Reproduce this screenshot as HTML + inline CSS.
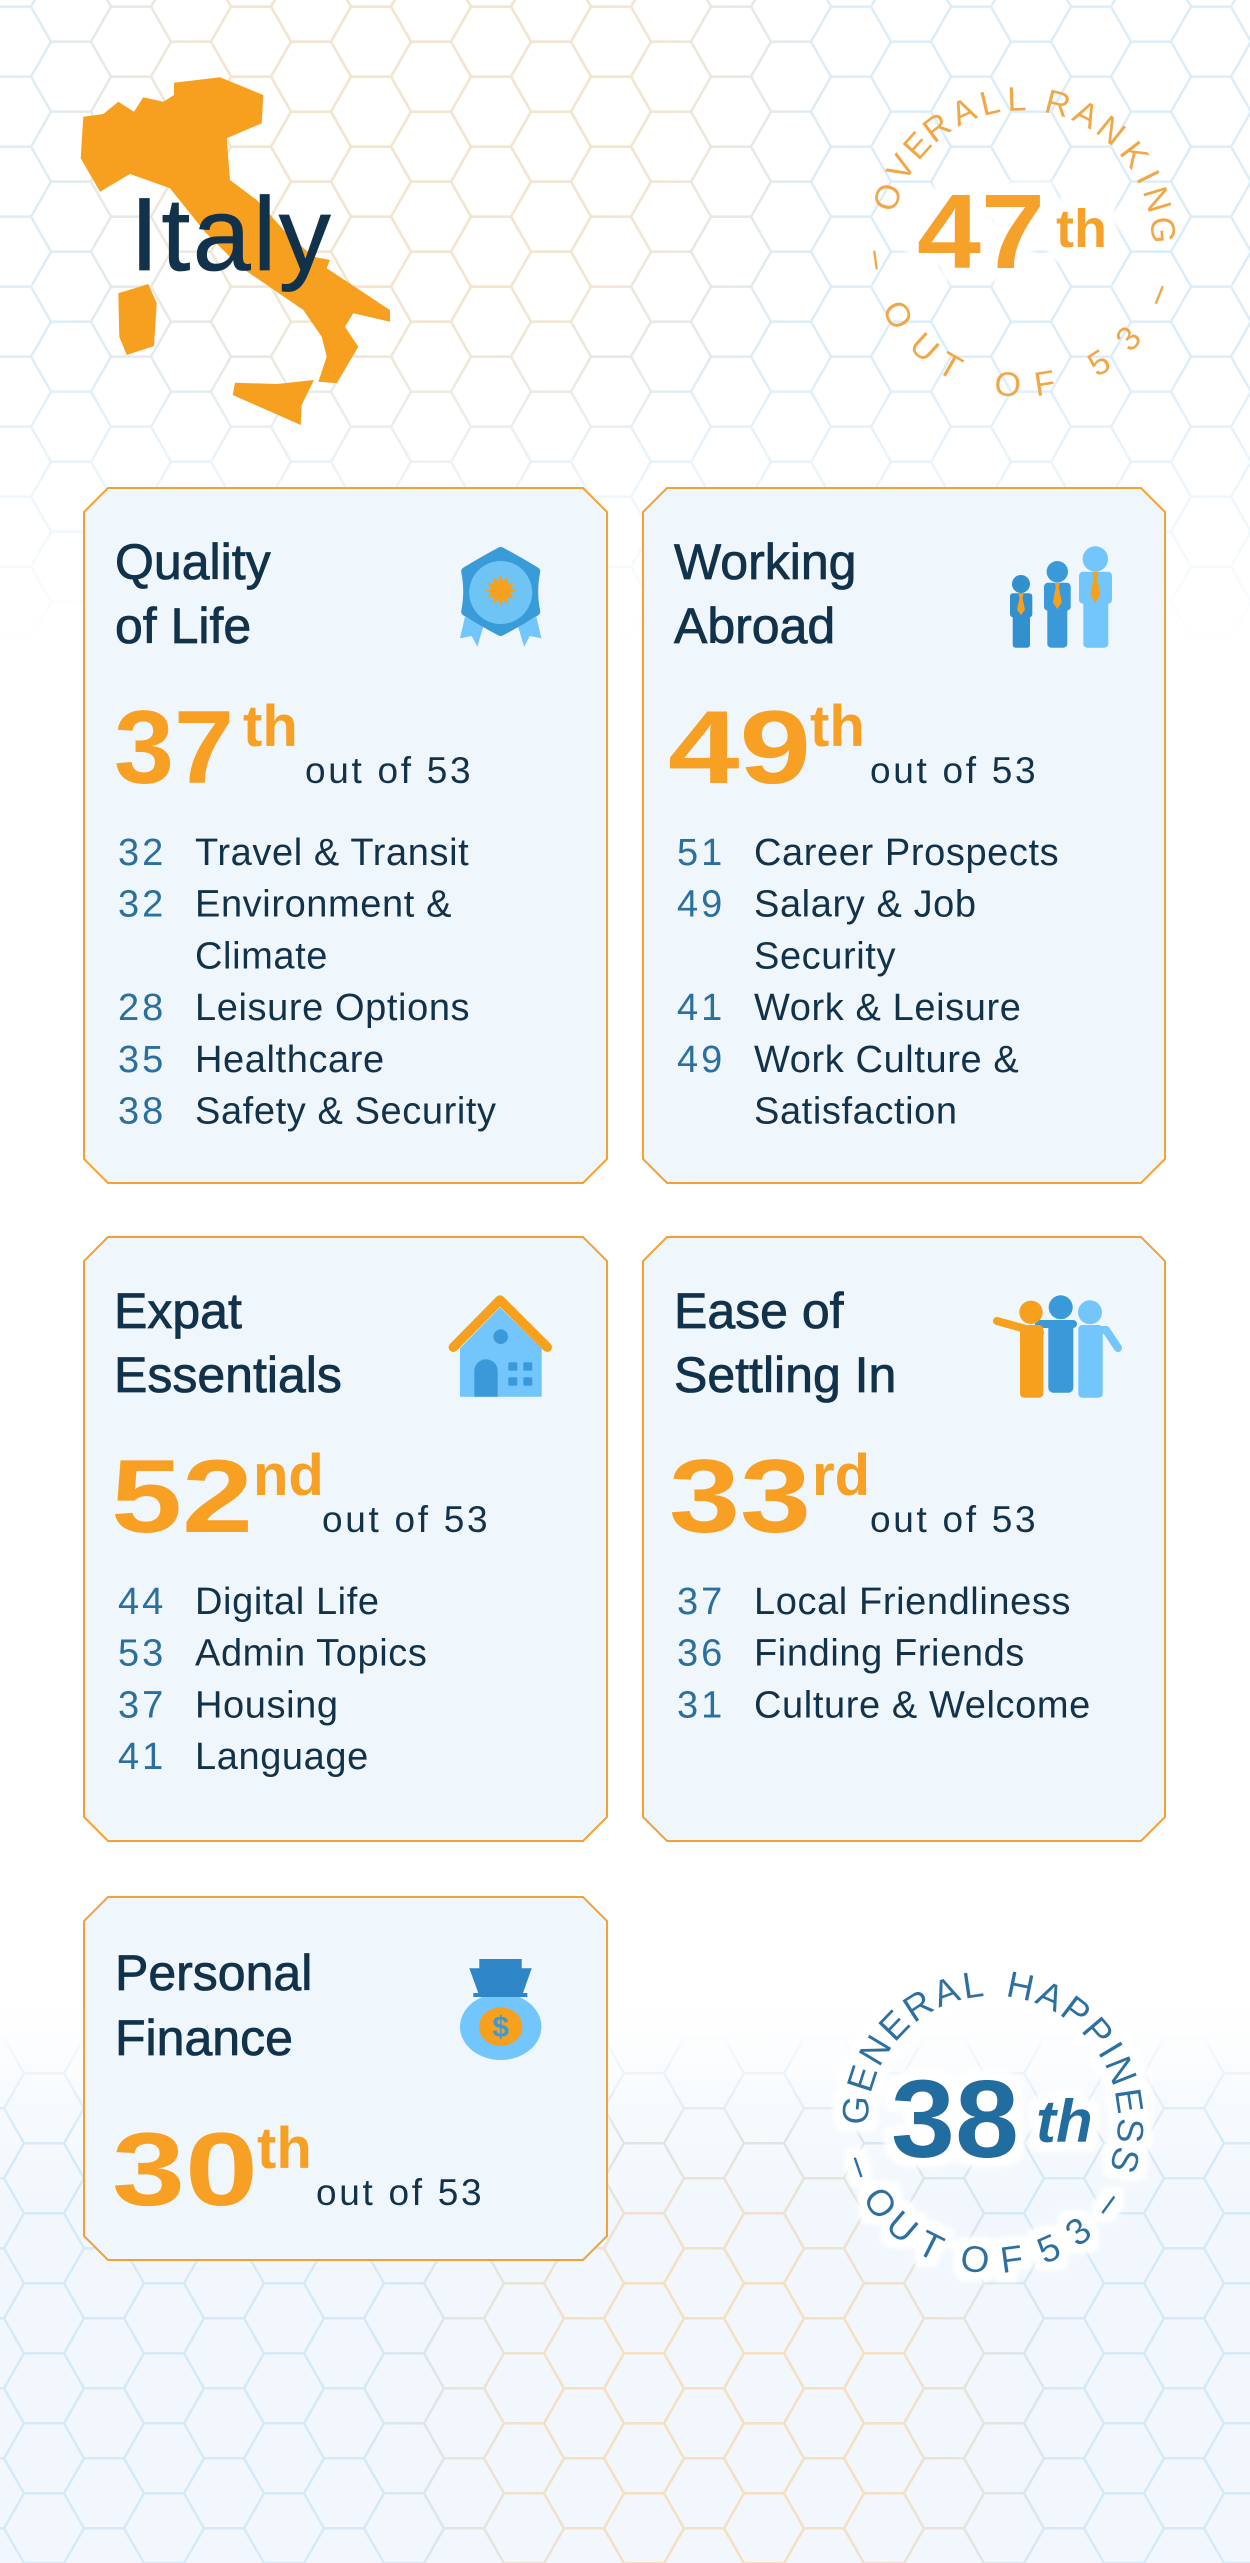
<!DOCTYPE html>
<html><head><meta charset="utf-8">
<style>
html,body{margin:0;padding:0;background:#fff;width:1250px;height:2563px;overflow:hidden;}
svg{display:block;}
text{font-family:"Liberation Sans",Arial,sans-serif;}
.ti{font-size:50px;fill:#11324a;stroke:#11324a;stroke-width:0.8px;}
.bg{font-size:104px;font-weight:700;fill:#f7a024;}
.sp{font-size:58px;font-weight:700;fill:#f7a024;}
.oo{font-size:37px;fill:#11324a;letter-spacing:2.7px;}
.nm{font-size:38px;fill:#2b6f9f;letter-spacing:3px;}
.lt{font-size:38px;fill:#11324a;letter-spacing:0.6px;}
.ov{font-size:34px;fill:#f2a746;text-anchor:middle;}
.gh{font-size:37px;fill:#2a71a2;text-anchor:middle;}
</style></head><body>
<svg width="1250" height="2563" viewBox="0 0 1250 2563" xmlns="http://www.w3.org/2000/svg">
<defs>
<pattern id="hbT" patternUnits="userSpaceOnUse" x="27" y="-1.6" width="120" height="70"><path d="M4 8.3L24-26.7H64L84 8.3L64 43.3H24Z M4 78.3L24 43.3H64L84 78.3L64 113.3H24Z M64 43.3L84 8.3H124L144 43.3L124 78.3H84Z M64-26.7L84-61.7H124L144-26.7L124 8.3H84Z M-56 43.3L-36 8.3H4L24 43.3L4 78.3H-36Z M-56-26.7L-36-61.7H4L24-26.7L4 8.3H-36Z" fill="none" stroke="#dcedf9" stroke-width="2.5"/></pattern>
<pattern id="hoT" patternUnits="userSpaceOnUse" x="27" y="-1.6" width="120" height="70"><path d="M4 8.3L24-26.7H64L84 8.3L64 43.3H24Z M4 78.3L24 43.3H64L84 78.3L64 113.3H24Z M64 43.3L84 8.3H124L144 43.3L124 78.3H84Z M64-26.7L84-61.7H124L144-26.7L124 8.3H84Z M-56 43.3L-36 8.3H4L24 43.3L4 78.3H-36Z M-56-26.7L-36-61.7H4L24-26.7L4 8.3H-36Z" fill="none" stroke="#f5e5cc" stroke-width="2.5"/></pattern>
<pattern id="hbB" patternUnits="userSpaceOnUse" x="0" y="0" width="120" height="70"><path d="M4 8.3L24-26.7H64L84 8.3L64 43.3H24Z M4 78.3L24 43.3H64L84 78.3L64 113.3H24Z M64 43.3L84 8.3H124L144 43.3L124 78.3H84Z M64-26.7L84-61.7H124L144-26.7L124 8.3H84Z M-56 43.3L-36 8.3H4L24 43.3L4 78.3H-36Z M-56-26.7L-36-61.7H4L24-26.7L4 8.3H-36Z" fill="none" stroke="#d6e9f8" stroke-width="2.5"/></pattern>
<pattern id="hoB" patternUnits="userSpaceOnUse" x="0" y="0" width="120" height="70"><path d="M4 8.3L24-26.7H64L84 8.3L64 43.3H24Z M4 78.3L24 43.3H64L84 78.3L64 113.3H24Z M64 43.3L84 8.3H124L144 43.3L124 78.3H84Z M64-26.7L84-61.7H124L144-26.7L124 8.3H84Z M-56 43.3L-36 8.3H4L24 43.3L4 78.3H-36Z M-56-26.7L-36-61.7H4L24-26.7L4 8.3H-36Z" fill="none" stroke="#f5e0c0" stroke-width="2.5"/></pattern>

<linearGradient id="gTop" gradientUnits="userSpaceOnUse" x1="0" y1="0" x2="0" y2="650"><stop offset="0" stop-color="#fff"/><stop offset="0.55" stop-color="#fff"/><stop offset="1" stop-color="#000"/></linearGradient>
<mask id="mTop" maskUnits="userSpaceOnUse" x="0" y="0" width="1250" height="700"><rect width="1250" height="700" fill="url(#gTop)"/></mask>
<radialGradient id="gOT" gradientUnits="userSpaceOnUse" cx="430" cy="110" r="420"><stop offset="0" stop-color="#fff"/><stop offset="0.5" stop-color="#fff"/><stop offset="1" stop-color="#000"/></radialGradient>
<mask id="mOT" maskUnits="userSpaceOnUse" x="0" y="0" width="1250" height="700"><rect width="1250" height="700" fill="url(#gOT)"/></mask>

<linearGradient id="gBot" gradientUnits="userSpaceOnUse" x1="0" y1="2030" x2="0" y2="2140"><stop offset="0" stop-color="#000"/><stop offset="1" stop-color="#fff"/></linearGradient>
<mask id="mBot" maskUnits="userSpaceOnUse" x="0" y="1990" width="1250" height="573"><rect y="1990" width="1250" height="573" fill="url(#gBot)"/></mask>
<radialGradient id="gOB" gradientUnits="userSpaceOnUse" cx="720" cy="2420" r="360"><stop offset="0" stop-color="#fff"/><stop offset="0.45" stop-color="#fff"/><stop offset="1" stop-color="#000"/></radialGradient>
<mask id="mOB" maskUnits="userSpaceOnUse" x="0" y="1990" width="1250" height="573"><rect y="1990" width="1250" height="573" fill="url(#gOB)"/></mask>
<linearGradient id="gTint" gradientUnits="userSpaceOnUse" x1="0" y1="2000" x2="0" y2="2200"><stop offset="0" stop-color="#f1f7fc" stop-opacity="0"/><stop offset="1" stop-color="#f1f7fc"/></linearGradient>

<filter id="halo1" filterUnits="userSpaceOnUse" x="860" y="150" width="320" height="180"><feMorphology in="SourceAlpha" operator="dilate" radius="13" result="d"/><feGaussianBlur in="d" stdDeviation="3" result="b"/><feFlood flood-color="#fff"/><feComposite in2="b" operator="in" result="w"/><feMerge><feMergeNode in="w"/><feMergeNode in="SourceGraphic"/></feMerge></filter>
<filter id="halo2" filterUnits="userSpaceOnUse" x="780" y="1920" width="430" height="420"><feMorphology in="SourceAlpha" operator="dilate" radius="9" result="d"/><feGaussianBlur in="d" stdDeviation="2.5" result="b"/><feFlood flood-color="#fff"/><feComposite in2="b" operator="in" result="w"/><feMerge><feMergeNode in="w"/><feMergeNode in="SourceGraphic"/></feMerge></filter>
</defs>

<!-- background -->
<rect width="1250" height="2563" fill="#ffffff"/>
<rect y="2000" width="1250" height="563" fill="url(#gTint)"/>
<g mask="url(#mTop)">
  <rect width="1250" height="700" fill="url(#hbT)"/>
  <rect width="1250" height="700" fill="url(#hoT)" mask="url(#mOT)"/>
</g>
<g mask="url(#mBot)">
  <rect y="1990" width="1250" height="573" fill="url(#hbB)"/>
  <rect y="1990" width="1250" height="573" fill="url(#hoB)" mask="url(#mOB)"/>
</g>

<!-- Italy map -->
<g fill="#f7a01f">
<polygon points="80.7,158.3 83.3,116.7 103.3,114 118.3,101.7 134,111.7 143.3,97.3 163.3,101.7 174,95 174,82.7 220,77.3 263.3,95 261.7,123.3 226.7,138.3 230,180 256.7,200 286.7,233.3 313.3,256.7 330,260 326.7,268.3 390,310 390,321.7 353.3,313.3 345,326.7 358.3,346.7 336.7,383.3 318.3,381.7 326.7,356.7 321.7,336.7 303.3,310 240,266.7 205,232 170,188.3 130,174 100,191.7"/>
<polygon points="118.3,293.3 148.3,284 156.7,303.3 154,346 126.7,355 119.3,336.7"/>
<polygon points="235,382.7 276.7,384 314,380 301.7,405 300.7,425 232.7,395"/>
</g>
<text x="130" y="270" style="font-size:104px;fill:#11324a;letter-spacing:2.5px;stroke:#11324a;stroke-width:0.8px">Italy</text>

<!-- Overall ranking circle -->
<g class="ov">
<text x="1022" y="110.4" transform="rotate(-72.3 1022 240)">O</text>
<text x="1022" y="110.4" transform="rotate(-59.2 1022 240)">V</text>
<text x="1022" y="110.4" transform="rotate(-48 1022 240)">E</text>
<text x="1022" y="110.4" transform="rotate(-37.1 1022 240)">R</text>
<text x="1022" y="110.4" transform="rotate(-24.5 1022 240)">A</text>
<text x="1022" y="110.4" transform="rotate(-13.2 1022 240)">L</text>
<text x="1022" y="110.4" transform="rotate(-2.1 1022 240)">L</text>
<text x="1022" y="110.4" transform="rotate(14.7 1022 240)">R</text>
<text x="1022" y="110.4" transform="rotate(27 1022 240)">A</text>
<text x="1022" y="110.4" transform="rotate(39.1 1022 240)">N</text>
<text x="1022" y="110.4" transform="rotate(52.8 1022 240)">K</text>
<text x="1022" y="110.4" transform="rotate(63.4 1022 240)">I</text>
<text x="1022" y="110.4" transform="rotate(73.3 1022 240)">N</text>
<text x="1022" y="110.4" transform="rotate(85.9 1022 240)">G</text>
<text x="1022" y="396.5" transform="rotate(82.2 1022 240)">–</text>
<text x="1022" y="396.5" transform="rotate(58.9 1022 240)">O</text>
<text x="1022" y="396.5" transform="rotate(42.3 1022 240)">U</text>
<text x="1022" y="396.5" transform="rotate(29.7 1022 240)">T</text>
<text x="1022" y="396.5" transform="rotate(5.6 1022 240)">O</text>
<text x="1022" y="396.5" transform="rotate(-9 1022 240)">F</text>
<text x="1022" y="396.5" transform="rotate(-32.1 1022 240)">5</text>
<text x="1022" y="396.5" transform="rotate(-47.2 1022 240)">3</text>
<text x="1022" y="396.5" transform="rotate(-68.2 1022 240)">–</text>
</g>
<g filter="url(#halo1)">
<text x="917" y="268" textLength="128" lengthAdjust="spacingAndGlyphs" style="font-size:106px;font-weight:700;fill:#f5a12a">47</text>
<text x="1056" y="247" style="font-size:54px;font-weight:700;fill:#f5a12a">th</text>
</g>

<!-- Cards -->
<g fill="#eff6fc" stroke="#f5a035" stroke-width="2">
<path d="M108 488 H583 L607 512 V1159 L583 1183 H108 L84 1159 V512Z"/>
<path d="M667 488 H1141 L1165 512 V1159 L1141 1183 H667 L643 1159 V512Z"/>
<path d="M108 1237 H583 L607 1261 V1817 L583 1841 H108 L84 1817 V1261Z"/>
<path d="M667 1237 H1141 L1165 1261 V1817 L1141 1841 H667 L643 1817 V1261Z"/>
<path d="M108 1897 H583 L607 1921 V2236 L583 2260 H108 L84 2236 V1921Z"/>
</g>

<!-- Card 1 -->
<text class="ti" x="115" y="579">Quality</text>
<text class="ti" x="115" y="643">of Life</text>
<text class="bg" x="114" y="783" textLength="120" lengthAdjust="spacingAndGlyphs">37</text>
<text class="sp" x="243" y="746">th</text>
<text class="oo" x="305" y="783">out of 53</text>
<text class="nm" x="118" y="865">32</text><text class="lt" x="195" y="865">Travel &amp; Transit</text>
<text class="nm" x="118" y="916.7">32</text><text class="lt" x="195" y="916.7">Environment &amp;</text>
<text class="lt" x="195" y="968.4">Climate</text>
<text class="nm" x="118" y="1020.1">28</text><text class="lt" x="195" y="1020.1">Leisure Options</text>
<text class="nm" x="118" y="1071.8">35</text><text class="lt" x="195" y="1071.8">Healthcare</text>
<text class="nm" x="118" y="1123.5">38</text><text class="lt" x="195" y="1123.5">Safety &amp; Security</text>
<!-- rosette -->
<polygon points="465,616.7 483.3,626.7 477.3,646.7 471.7,636 460,638.3" fill="#72c6fb"/>
<polygon points="536.4,616.7 518.1,626.7 524.1,646.7 529.7,636 541.4,638.3" fill="#72c6fb"/>
<g transform="translate(500.7,591.5)">
<path d="M0,-40 Q17,-31 35,-20 Q31,0 35,20 Q17,31 0,40 Q-17,31 -35,20 Q-31,0 -35,-20 Q-17,-31 0,-40Z" fill="#3a9bd9" stroke="#3a9bd9" stroke-width="9" stroke-linejoin="round"/>
<circle cx="0" cy="1" r="31.5" fill="#6fc4f6"/>
<polygon transform="translate(0,-1)" fill="#f7a01e" points="0,-16 2.46,-9.18 8,-13.86 6.72,-6.72 13.86,-8 9.18,-2.46 16,0 9.18,2.46 13.86,8 6.72,6.72 8,13.86 2.46,9.18 0,16 -2.46,9.18 -8,13.86 -6.72,6.72 -13.86,8 -9.18,2.46 -16,0 -9.18,-2.46 -13.86,-8 -6.72,-6.72 -8,-13.86 -2.46,-9.18"/>
</g>

<!-- Card 2 -->
<text class="ti" x="674" y="579">Working</text>
<text class="ti" x="674" y="643">Abroad</text>
<text class="bg" x="668" y="783" textLength="143" lengthAdjust="spacingAndGlyphs">49</text>
<text class="sp" x="810" y="746">th</text>
<text class="oo" x="870" y="783">out of 53</text>
<text class="nm" x="677" y="865">51</text><text class="lt" x="754" y="865">Career Prospects</text>
<text class="nm" x="677" y="916.7">49</text><text class="lt" x="754" y="916.7">Salary &amp; Job</text>
<text class="lt" x="754" y="968.4">Security</text>
<text class="nm" x="677" y="1020.1">41</text><text class="lt" x="754" y="1020.1">Work &amp; Leisure</text>
<text class="nm" x="677" y="1071.8">49</text><text class="lt" x="754" y="1071.8">Work Culture &amp;</text>
<text class="lt" x="754" y="1123.5">Satisfaction</text>
<!-- people icon -->
<g fill="#3390cf">
<circle cx="1021" cy="584" r="9"/>
<rect x="1010" y="593.3" width="22.3" height="24" rx="3"/>
<rect x="1012.7" y="600" width="17.3" height="47.7" rx="3"/>
</g>
<g fill="#3a9ad9">
<circle cx="1057.3" cy="571.7" r="10.7"/>
<rect x="1044" y="582.7" width="26.7" height="28" rx="4"/>
<rect x="1047.3" y="590" width="20" height="57.7" rx="4"/>
</g>
<g fill="#72c6fb">
<circle cx="1095.3" cy="559" r="12.7"/>
<rect x="1079" y="571.7" width="33" height="32" rx="4"/>
<rect x="1083.3" y="580" width="25" height="67.7" rx="4"/>
</g>
<g fill="#f7a01e">
<polygon points="1018.5,594 1023.5,594 1022.5,598 1025,609.8 1021,615 1017,609.8 1019.5,598"/>
<polygon points="1054.8,583 1059.8,583 1058.8,587 1061.8,602.5 1057.3,609 1052.8,602.5 1055.8,587"/>
<polygon points="1092.3,572 1098.3,572 1097,577 1100.3,595 1095.3,603 1090.3,595 1093.6,577"/>
</g>

<!-- Card 3 -->
<text class="ti" x="114" y="1328">Expat</text>
<text class="ti" x="114" y="1392">Essentials</text>
<text class="bg" x="111" y="1532" textLength="142" lengthAdjust="spacingAndGlyphs">52</text>
<text class="sp" x="253" y="1495">nd</text>
<text class="oo" x="322" y="1532">out of 53</text>
<text class="nm" x="118" y="1614">44</text><text class="lt" x="195" y="1614">Digital Life</text>
<text class="nm" x="118" y="1665.7">53</text><text class="lt" x="195" y="1665.7">Admin Topics</text>
<text class="nm" x="118" y="1717.4">37</text><text class="lt" x="195" y="1717.4">Housing</text>
<text class="nm" x="118" y="1769.1">41</text><text class="lt" x="195" y="1769.1">Language</text>
<!-- house -->
<polygon points="460,1348.3 500,1307.3 541.7,1348.3 541.7,1396.7 460,1396.7" fill="#72c6fb"/>
<polyline points="453.3,1347.3 500,1300 547.3,1347.3" fill="none" stroke="#f7a01e" stroke-width="9.5" stroke-linecap="round" stroke-linejoin="round"/>
<g fill="#3a9ad9">
<circle cx="500.7" cy="1336.7" r="7.3"/>
<path d="M474.3 1396.7 V1371 A11.7 11.7 0 0 1 497.7 1371 V1396.7Z"/>
<rect x="508.3" y="1362.3" width="9" height="8.4" rx="1.5"/>
<rect x="523.3" y="1362.3" width="9" height="8.4" rx="1.5"/>
<rect x="508.3" y="1377.3" width="9" height="8.4" rx="1.5"/>
<rect x="523.3" y="1377.3" width="9" height="8.4" rx="1.5"/>
</g>

<!-- Card 4 -->
<text class="ti" x="674" y="1328">Ease of</text>
<text class="ti" x="674" y="1392">Settling In</text>
<text class="bg" x="669" y="1532" textLength="142" lengthAdjust="spacingAndGlyphs">33</text>
<text class="sp" x="812" y="1495">rd</text>
<text class="oo" x="870" y="1532">out of 53</text>
<text class="nm" x="677" y="1614">37</text><text class="lt" x="754" y="1614">Local Friendliness</text>
<text class="nm" x="677" y="1665.7">36</text><text class="lt" x="754" y="1665.7">Finding Friends</text>
<text class="nm" x="677" y="1717.4">31</text><text class="lt" x="754" y="1717.4">Culture &amp; Welcome</text>
<!-- friends icon -->
<g fill="#3a9ad9">
<rect x="1035" y="1320" width="42" height="8" rx="4"/>
<rect x="1048.3" y="1320" width="25" height="72.7" rx="5"/>
<circle cx="1060.7" cy="1307.3" r="12"/>
</g>
<g fill="#f7a01e">
<line x1="997" y1="1321" x2="1040" y2="1333" stroke="#f7a01e" stroke-width="8" stroke-linecap="round"/>
<rect x="1020" y="1325" width="23.3" height="72.7" rx="4"/>
<circle cx="1031" cy="1312.3" r="11.7"/>
</g>
<g fill="#72c6fb">
<polyline points="1092,1330 1106,1330 1118,1348" fill="none" stroke="#72c6fb" stroke-width="8" stroke-linecap="round" stroke-linejoin="round"/>
<rect x="1078.3" y="1325" width="24.4" height="72.7" rx="4"/>
<circle cx="1090" cy="1312.3" r="12"/>
</g>

<!-- Card 5 -->
<text class="ti" x="115" y="1990">Personal</text>
<text class="ti" x="115" y="2055">Finance</text>
<text class="bg" x="112" y="2205" textLength="146" lengthAdjust="spacingAndGlyphs">30</text>
<text class="sp" x="257" y="2168">th</text>
<text class="oo" x="316" y="2205">out of 53</text>
<!-- money bag -->
<ellipse cx="500.7" cy="2026.7" rx="40.7" ry="33.3" fill="#72c6fb"/>
<polygon fill="#2f86c6" points="479.3,1959 521.7,1959 521.7,1968.3 531.7,1968.3 523,1993 527.3,1993 527.3,1997 473.3,1997 473.3,1993 478.3,1993 469.3,1968.3 479.3,1968.3"/>
<ellipse cx="500.7" cy="2026.7" rx="21.7" ry="19.3" fill="#f7a01e"/>
<text x="500.7" y="2037" text-anchor="middle" style="font-size:30px;font-weight:700;fill:#3a9ad9">$</text>

<!-- General happiness circle -->
<g filter="url(#halo2)">
<g class="gh">
<text x="993" y="1996" transform="rotate(-85.5 993 2121)">G</text>
<text x="993" y="1996" transform="rotate(-72 993 2121)">E</text>
<text x="993" y="1996" transform="rotate(-59 993 2121)">N</text>
<text x="993" y="1996" transform="rotate(-46 993 2121)">E</text>
<text x="993" y="1996" transform="rotate(-33 993 2121)">R</text>
<text x="993" y="1996" transform="rotate(-20 993 2121)">A</text>
<text x="993" y="1996" transform="rotate(-8.4 993 2121)">L</text>
<text x="993" y="1996" transform="rotate(11.6 993 2121)">H</text>
<text x="993" y="1996" transform="rotate(24.6 993 2121)">A</text>
<text x="993" y="1996" transform="rotate(37.1 993 2121)">P</text>
<text x="993" y="1996" transform="rotate(49.6 993 2121)">P</text>
<text x="993" y="1996" transform="rotate(58.8 993 2121)">I</text>
<text x="993" y="1996" transform="rotate(68.5 993 2121)">N</text>
<text x="993" y="1996" transform="rotate(81.5 993 2121)">E</text>
<text x="993" y="1996" transform="rotate(94 993 2121)">S</text>
<text x="993" y="1996" transform="rotate(106.5 993 2121)">S</text>
<text x="993" y="2273" transform="rotate(71 993 2121)">–</text>
<text x="993" y="2273" transform="rotate(54 993 2121)">O</text>
<text x="993" y="2273" transform="rotate(40.6 993 2121)">U</text>
<text x="993" y="2273" transform="rotate(26.6 993 2121)">T</text>
<text x="993" y="2273" transform="rotate(7.4 993 2121)">O</text>
<text x="993" y="2273" transform="rotate(-7.7 993 2121)">F</text>
<text x="993" y="2273" transform="rotate(-23.6 993 2121)">5</text>
<text x="993" y="2273" transform="rotate(-37.6 993 2121)">3</text>
<text x="993" y="2273" transform="rotate(-54 993 2121)">–</text>
</g>
<text x="891" y="2157" textLength="128" lengthAdjust="spacingAndGlyphs" style="font-size:110px;font-weight:700;fill:#216d9f">38</text>
<text x="1036" y="2142" style="font-size:60px;font-weight:700;font-style:italic;fill:#216d9f">th</text>
</g>
</svg>
</body></html>
